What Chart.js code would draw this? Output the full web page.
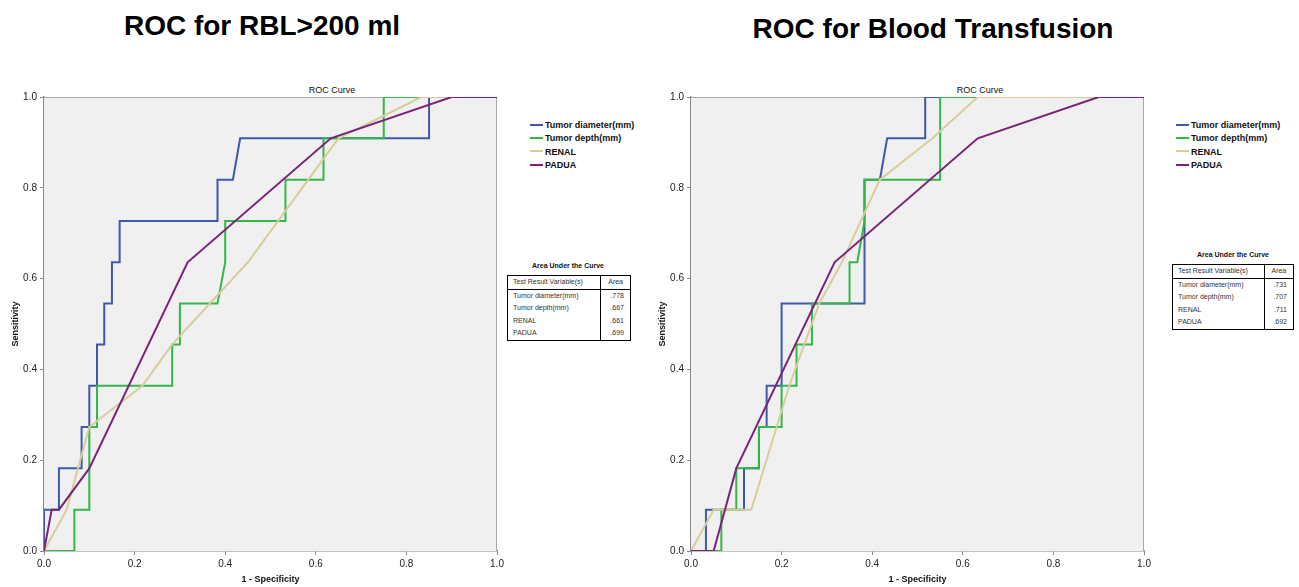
<!DOCTYPE html>
<html>
<head>
<meta charset="utf-8">
<script src="https://cdn.jsdelivr.net/npm/chart.js@4.4.0/dist/chart.umd.min.js"></script>
<style>
body{margin:0;width:1299px;height:587px;position:relative;background:#fff;font-family:Arial,"Liberation Sans",sans-serif;overflow:hidden;color:#111}
canvas{position:absolute}
h1{position:absolute;margin:0;font-size:28px;line-height:28px;font-weight:bold;white-space:nowrap;transform:translateX(-50%);color:#000}
.cap{position:absolute;font-size:9px;line-height:10px;transform:translateX(-50%);white-space:nowrap;color:#111}
.legend{position:absolute;font-size:9px;font-weight:bold;color:#111}
.legend div{height:13.3px;line-height:13.3px;white-space:nowrap}
.legend span{display:inline-block;width:13px;height:2px;vertical-align:middle;margin-right:2px;position:relative;top:-1px}
.auc-title{position:absolute;font-size:7px;line-height:8px;font-weight:bold;transform:translateX(-50%);white-space:nowrap;color:#111}
table{position:absolute;border-collapse:collapse;font-size:7px;border:1px solid #000;color:#333;background:#fff}
td{padding:0 5px;height:12.6px;line-height:12.6px;white-space:nowrap}
tr.head td{border-bottom:1px solid #000;height:11.6px}
td.v{border-left:1.5px solid #000;text-align:right;padding-right:6px}
tr.head td.v{text-align:center;padding-right:5px}
</style>
</head>
<body>
<h1 style="left:262px;top:12px">ROC for RBL&gt;200 ml</h1>
<h1 style="left:933px;top:15px">ROC for Blood Transfusion</h1>
<div class="cap" style="left:332px;top:85px">ROC Curve</div>
<div class="cap" style="left:980px;top:85px">ROC Curve</div>

<canvas id="rblChart" width="510" height="507" style="left:0;top:80px"></canvas>
<canvas id="transChart" width="510" height="507" style="left:647px;top:80px"></canvas>

<div class="legend" id="rblLegend" style="left:530px;top:119px"></div>
<div class="legend" id="transLegend" style="left:1176px;top:119px"></div>

<div class="auc-title" style="left:568px;top:262px">Area Under the Curve</div>
<table id="rblTable" style="left:507px;top:275px;width:124px"></table>
<div class="auc-title" style="left:1233px;top:251px">Area Under the Curve</div>
<table id="transTable" style="left:1172px;top:264px;width:122px"></table>

<script>
// series names, colours and AUC values
var seriesNames = ["Tumor diameter(mm)", "Tumor depth(mm)", "RENAL", "PADUA"];
var seriesColors = ['#3e59ac', '#32b846', '#d6cd9a', '#7a2378'];
var aucRbl = [".778", ".667", ".661", ".699"];
var aucTrans = [".731", ".707", ".711", ".692"];
var tickValues = [0, 0.2, 0.4, 0.6, 0.8, 1.0];

// ROC for RBL>200 ml  (x = 1 - specificity, y = sensitivity)
var rblDiamX = [0, 0, 0.033, 0.033, 0.083, 0.083, 0.1, 0.1, 0.117, 0.117, 0.133, 0.133, 0.15, 0.15, 0.167, 0.167, 0.383, 0.383, 0.417, 0.433, 0.85, 0.85, 1];
var rblDiamY = [0, 0.091, 0.091, 0.182, 0.182, 0.273, 0.273, 0.364, 0.364, 0.455, 0.455, 0.545, 0.545, 0.636, 0.636, 0.727, 0.727, 0.818, 0.818, 0.909, 0.909, 1, 1];
var rblDepthX = [0, 0.067, 0.067, 0.1, 0.1, 0.117, 0.117, 0.283, 0.283, 0.3, 0.3, 0.383, 0.4, 0.4, 0.533, 0.533, 0.617, 0.617, 0.75, 0.75, 1];
var rblDepthY = [0, 0, 0.091, 0.091, 0.273, 0.273, 0.364, 0.364, 0.455, 0.455, 0.545, 0.545, 0.636, 0.727, 0.727, 0.818, 0.818, 0.909, 0.909, 1, 1];
var rblRenalX = [0, 0.05, 0.1, 0.217, 0.283, 0.45, 0.65, 0.833, 1];
var rblRenalY = [0, 0.091, 0.273, 0.364, 0.455, 0.636, 0.909, 1, 1];
var rblPaduaX = [0, 0.017, 0.033, 0.1, 0.317, 0.633, 0.9, 1];
var rblPaduaY = [0, 0.091, 0.091, 0.182, 0.636, 0.909, 1, 1];

// ROC for Blood Transfusion
var transDiamX = [0, 0.033, 0.033, 0.117, 0.117, 0.15, 0.15, 0.167, 0.167, 0.2, 0.2, 0.383, 0.383, 0.417, 0.433, 0.517, 0.517, 1];
var transDiamY = [0, 0, 0.091, 0.091, 0.182, 0.182, 0.273, 0.273, 0.364, 0.364, 0.545, 0.545, 0.818, 0.818, 0.909, 0.909, 1, 1];
var transDepthX = [0, 0.067, 0.067, 0.1, 0.1, 0.15, 0.15, 0.2, 0.2, 0.233, 0.233, 0.267, 0.267, 0.35, 0.35, 0.367, 0.383, 0.383, 0.55, 0.55, 1];
var transDepthY = [0, 0, 0.091, 0.091, 0.182, 0.182, 0.273, 0.273, 0.364, 0.364, 0.455, 0.455, 0.545, 0.545, 0.636, 0.636, 0.727, 0.818, 0.818, 1, 1];
var transRenalX = [0, 0.05, 0.133, 0.217, 0.283, 0.333, 0.417, 0.533, 0.633, 1];
var transRenalY = [0, 0.091, 0.091, 0.364, 0.545, 0.636, 0.818, 0.909, 1, 1];
var transPaduaX = [0, 0.05, 0.1, 0.317, 0.633, 0.9, 1];
var transPaduaY = [0, 0, 0.182, 0.636, 0.909, 1, 1];

var fontFamily = 'Arial, "Liberation Sans", sans-serif';

function toPoints(xs, ys) {
    return xs.map(function (x, i) { return {x: x, y: ys[i]}; });
}

// grey plot background + thin frame on top/right
var plotBg = {
    id: 'plotBg',
    beforeDatasetsDraw: function (chart) {
        var ctx = chart.ctx, a = chart.chartArea;
        ctx.save();
        ctx.fillStyle = '#f0f0f0';
        ctx.fillRect(a.left, a.top, a.right - a.left, a.bottom - a.top);
        ctx.strokeStyle = '#a8a8a8';
        ctx.lineWidth = 1;
        ctx.beginPath();
        ctx.moveTo(a.left, a.top + 0.5);
        ctx.lineTo(a.right - 0.5, a.top + 0.5);
        ctx.lineTo(a.right - 0.5, a.bottom);
        ctx.stroke();
        ctx.restore();
    }
};

function axisOpts(title, isY) {
    return {
        type: 'linear',
        min: 0,
        max: 1,
        afterBuildTicks: function (scale) {
            scale.ticks = tickValues.map(function (v) { return {value: v}; });
        },
        ticks: {
            callback: function (v) { return Number(v).toFixed(1); },
            color: '#222',
            font: {size: 10, family: fontFamily},
            padding: 3,
            maxRotation: 0,
            autoSkip: false
        },
        grid: {drawOnChartArea: false, drawTicks: true, tickLength: 4, color: '#888'},
        border: {color: '#888', width: 1.5},
        title: {
            display: true,
            text: title,
            color: '#111',
            font: {size: 9, weight: 'bold', family: fontFamily},
            padding: isY ? {top: 10, bottom: 0} : {top: 0, bottom: 2}
        },
        afterFit: function (scale) {
            if (isY) { scale.width = 44; } else { scale.height = 36; }
        }
    };
}

function makeChart(id, series) {
    var datasets = series.map(function (s, i) {
        return {
            label: seriesNames[i],
            data: toPoints(s[0], s[1]),
            showLine: true,
            borderColor: seriesColors[i],
            backgroundColor: seriesColors[i],
            borderWidth: 2,
            pointRadius: 0,
            tension: 0,
            order: 4 - i
        };
    });
    return new Chart(document.getElementById(id).getContext('2d'), {
        type: 'scatter',
        data: {datasets: datasets},
        options: {
            responsive: false,
            animation: false,
            layout: {padding: {left: 0, right: 13, top: 17, bottom: 0}},
            plugins: {legend: {display: false}, title: {display: false}, tooltip: {enabled: false}},
            scales: {
                x: axisOpts('1 - Specificity', false),
                y: axisOpts('Sensitivity', true)
            }
        },
        plugins: [plotBg]
    });
}

makeChart('rblChart', [[rblDiamX, rblDiamY], [rblDepthX, rblDepthY], [rblRenalX, rblRenalY], [rblPaduaX, rblPaduaY]]);
makeChart('transChart', [[transDiamX, transDiamY], [transDepthX, transDepthY], [transRenalX, transRenalY], [transPaduaX, transPaduaY]]);

// legends and AUC tables
function fillLegend(id) {
    var html = '';
    for (var i = 0; i < seriesNames.length; i++) {
        html += '<div><span style="background:' + seriesColors[i] + '"></span>' + seriesNames[i] + '</div>';
    }
    document.getElementById(id).innerHTML = html;
}
function fillTable(id, auc) {
    var html = '<tr class="head"><td>Test Result Variable(s)</td><td class="v">Area</td></tr>';
    for (var i = 0; i < seriesNames.length; i++) {
        html += '<tr><td>' + seriesNames[i] + '</td><td class="v">' + auc[i] + '</td></tr>';
    }
    document.getElementById(id).innerHTML = html;
}
fillLegend('rblLegend');
fillLegend('transLegend');
fillTable('rblTable', aucRbl);
fillTable('transTable', aucTrans);
</script>
</body>
</html>
